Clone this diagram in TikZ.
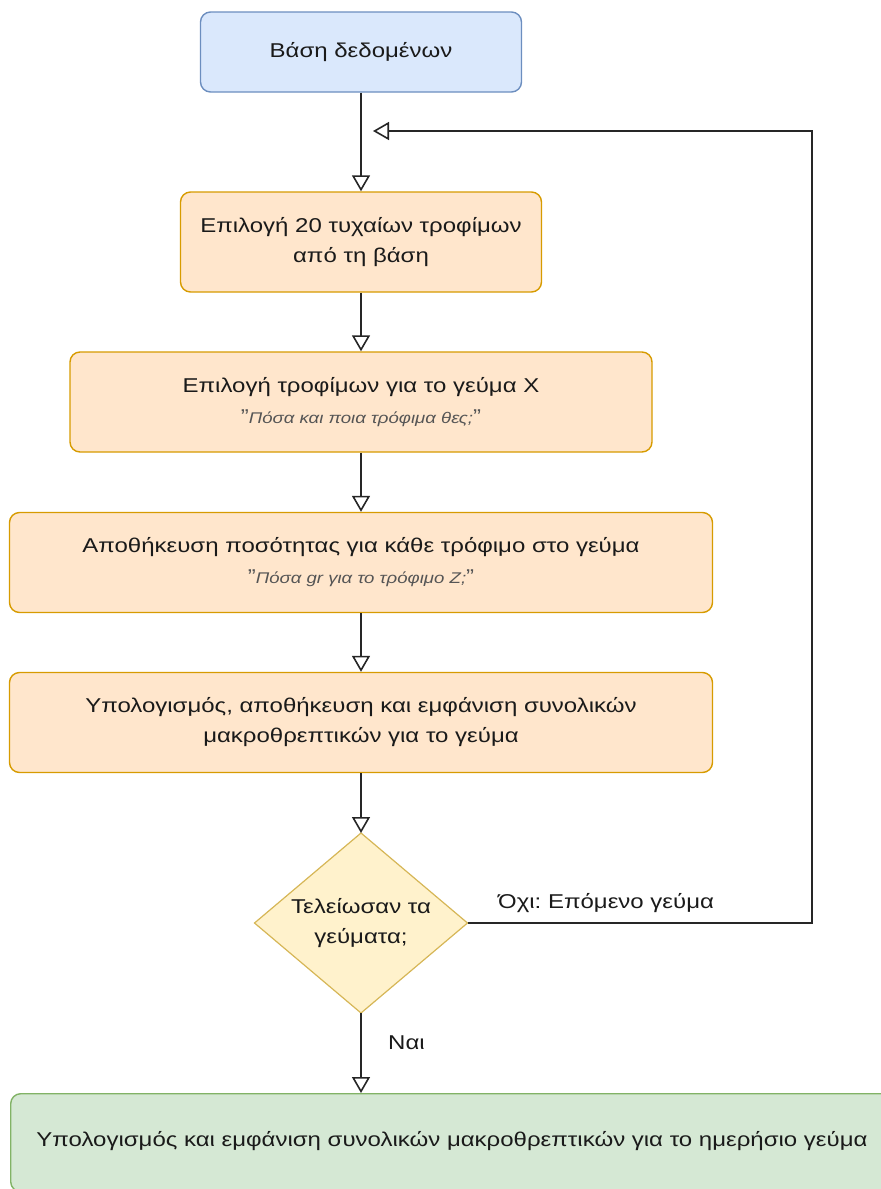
\documentclass[tikz,border=0pt]{standalone}
\usepackage{fontspec}
\setmainfont{Liberation Sans}[FakeStretch=1.2]
\usetikzlibrary{arrows.meta,shapes.geometric}
\definecolor{bluefill}{HTML}{DAE8FC}
\definecolor{bluedraw}{HTML}{6C8EBF}
\definecolor{orfill}{HTML}{FFE6CC}
\definecolor{ordraw}{HTML}{D79B00}
\definecolor{yefill}{HTML}{FFF2CC}
\definecolor{yedraw}{HTML}{D6B656}
\definecolor{grfill}{HTML}{D5E8D4}
\definecolor{grdraw}{HTML}{82B366}
\definecolor{txt}{HTML}{1A1A1A}
\definecolor{subtxt}{HTML}{555555}
\newcommand{\subq}[1]{{\color{subtxt}"}{\fontsize{15.5}{18}\selectfont\itshape\color{subtxt}#1}{\color{subtxt}"}}
\frenchspacing
\begin{document}
\begin{tikzpicture}[x=1pt,y=-1pt,
  every node/.style={font=\fontsize{20}{30}\selectfont\frenchspacing, text=txt},
  box/.style={draw, line width=1.4pt, rounded corners=10pt, inner sep=0pt, align=center},
  bluebox/.style={box, fill=bluefill, draw=bluedraw},
  orbox/.style={box, fill=orfill, draw=ordraw},
  grbox/.style={box, fill=grfill, draw=grdraw},
  decision/.style={draw=yedraw, fill=yefill, line width=1.2pt},
  conn/.style={draw=black!85, line width=2pt, -{Triangle[open, length=16pt, width=18pt, line width=1.6pt]}}
]
\useasboundingbox (0,0) rectangle (881,1189);
\node[bluebox, minimum width=321pt, minimum height=80pt] (db) at (361,52) {Βάση δεδομένων};
\node[orbox, minimum width=361pt, minimum height=100pt] (pick) at (361,242) {Επιλογή 20 τυχαίων τροφίμων\\από τη βάση};
\node[orbox, minimum width=582pt, minimum height=100pt] (meal) at (361,402) {Επιλογή τροφίμων για το γεύμα X\\[1pt]\subq{Πόσα και ποια τρόφιμα θες;}};
\node[orbox, minimum width=703pt, minimum height=100pt] (qty) at (361,562.5) {Αποθήκευση ποσότητας για κάθε τρόφιμο στο γεύμα\\[1pt]\subq{Πόσα gr για το τρόφιμο Z;}};
\node[orbox, minimum width=703pt, minimum height=100pt] (calc) at (361,722.5) {Υπολογισμός, αποθήκευση και εμφάνιση συνολικών\\μακροθρεπτικών για το γεύμα};
\draw[decision] (361,833) -- (467.5,923) -- (361,1013) -- (254.5,923) -- cycle;
\node[inner sep=0pt, align=center] (dec) at (361,923) {Τελείωσαν τα\\γεύματα;};
\coordinate (decT) at (361,833);
\coordinate (decR) at (467.5,923);
\coordinate (decB) at (361,1013);
\node[grbox, minimum width=890pt, minimum height=98pt, anchor=north west] (day) at (10,1093) {};
\node (daytxt) at (452,1141) {Υπολογισμός και εμφάνιση συνολικών μακροθρεπτικών για το ημερήσιο γεύμα};
\coordinate (c1) at (812,923);
\coordinate (c2) at (812,131);
\coordinate (c3) at (373,131);

\draw[conn] (db) -- (pick);
\draw[conn] (pick) -- (meal);
\draw[conn] (meal) -- (qty);
\draw[conn] (qty) -- (calc);
\draw[conn] (calc) -- (decT);
\draw[conn] (decB) -- (day.north -| decB);
\draw[conn] (decR) -- (c1) -- (c2) -- (c3);
\node[anchor=base west, inner sep=0pt] (no) at (498,908) {Όχι: Επόμενο γεύμα};
\node[anchor=base west, inner sep=0pt] (yes) at (388,1049) {Ναι};
\end{tikzpicture}
\end{document}
